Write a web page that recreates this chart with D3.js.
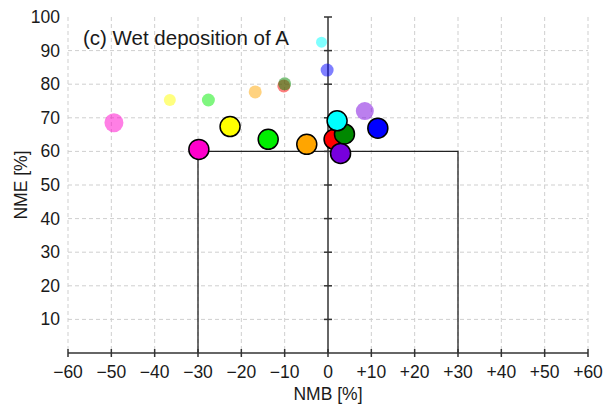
<!DOCTYPE html>
<html>
<head>
<meta charset="utf-8">
<script src="https://cdn.jsdelivr.net/npm/d3@7"></script>
<style>
  body { margin: 0; background: #fff; }
  text { font-family: "Liberation Sans", Arial, sans-serif; fill: #1a1a1a; }
  .grid line { stroke: #cfcfcf; stroke-dasharray: 4 3; stroke-width: 1; }
</style>
</head>
<body>
<svg id="chart"></svg>
<script>
const colors = ['#ff00cc', '#ffff00', '#00ee00', '#ffa500', '#ff0000', '#008800', '#0000ff', '#00ffff', '#7700dd'];

// current results (outlined)
const nmb = [-29.8, -22.6, -13.8, -4.9, 1.4, 3.8, 11.5, 2.1, 2.9];
const nme = [60.6, 67.4, 63.6, 62.1, 63.6, 65.2, 66.9, 69.1, 59.4];

// earlier results (faded)
const nmbOld = [-49.4, -36.5, -27.6, -16.8, -10.2, -10.0, -0.2, -1.5, 8.5];
const nmeOld = [68.5, 75.3, 75.3, 77.7, 79.5, 80.1, 84.2, 92.5, 72.0];
const oldSize = [9.5, 6, 6.5, 6.5, 6.5, 6.5, 6.5, 5.5, 9];

const xTicks = [-60, -50, -40, -30, -20, -10, 0, 10, 20, 30, 40, 50, 60];
const yTicks = [10, 20, 30, 40, 50, 60, 70, 80, 90, 100];
const goal = [[-30, 0], [-30, 60], [30, 60], [30, 0]];

const width = 608, height = 404;
const svg = d3.select('#chart').attr('width', width).attr('height', height);

const x = d3.scaleLinear().domain([-60, 60]).range([68, 588]);
const y = d3.scaleLinear().domain([0, 100]).range([353, 17]);

const fmtX = d => d > 0 ? '+' + d : d < 0 ? '\u2212' + Math.abs(d) : '0';

// grid
const grid = svg.append('g').attr('class', 'grid');
grid.selectAll('.gx')
  .data(xTicks.filter(d => d !== 0))
  .enter().append('line')
  .attr('x1', d => x(d)).attr('x2', d => x(d))
  .attr('y1', y(100)).attr('y2', y(0));
grid.selectAll('.gy')
  .data(yTicks.filter(d => d < 100))
  .enter().append('line')
  .attr('x1', x(-60)).attr('x2', x(60))
  .attr('y1', d => y(d)).attr('y2', d => y(d));

// goal box
svg.append('path')
  .datum(goal)
  .attr('d', d3.line().x(d => x(d[0])).y(d => y(d[1])))
  .attr('fill', 'none')
  .attr('stroke', '#222')
  .attr('stroke-width', 1.3);

// x axis
const xAxis = svg.append('g').attr('transform', `translate(0,${y(0)})`);
xAxis.append('line')
  .attr('x1', x(-60)).attr('x2', x(60))
  .attr('stroke', '#333').attr('stroke-width', 1.5);
xAxis.selectAll('.tick')
  .data(xTicks)
  .enter().append('line')
  .attr('x1', d => x(d)).attr('x2', d => x(d))
  .attr('y1', -4).attr('y2', 4)
  .attr('stroke', '#333').attr('stroke-width', 1.5);
xAxis.selectAll('text')
  .data(xTicks)
  .enter().append('text')
  .attr('x', d => x(d))
  .attr('y', 25)
  .attr('text-anchor', 'middle')
  .attr('font-size', 17.5)
  .text(fmtX);

// y axis line at NMB = 0
const yAxis = svg.append('g').attr('transform', `translate(${x(0)},0)`);
yAxis.append('line')
  .attr('y1', y(0)).attr('y2', y(100))
  .attr('stroke', '#333').attr('stroke-width', 1.5);
yAxis.selectAll('.tick')
  .data(yTicks)
  .enter().append('line')
  .attr('x1', -4).attr('x2', 4)
  .attr('y1', d => y(d)).attr('y2', d => y(d))
  .attr('stroke', '#333').attr('stroke-width', 1.5);

svg.append('g').selectAll('text')
  .data(yTicks)
  .enter().append('text')
  .attr('x', 60)
  .attr('y', d => y(d) + 6)
  .attr('text-anchor', 'end')
  .attr('font-size', 17.5)
  .text(d => d);

// faded points
svg.append('g').selectAll('circle')
  .data(nmbOld)
  .enter().append('circle')
  .attr('cx', d => x(d))
  .attr('cy', (d, i) => y(nmeOld[i]))
  .attr('r', (d, i) => oldSize[i])
  .attr('fill', (d, i) => colors[i])
  .attr('fill-opacity', 0.5);

// current points
svg.append('g').selectAll('circle')
  .data(nmb)
  .enter().append('circle')
  .attr('cx', d => x(d))
  .attr('cy', (d, i) => y(nme[i]))
  .attr('r', 10)
  .attr('fill', (d, i) => colors[i])
  .attr('stroke', '#000')
  .attr('stroke-width', 1.5);

svg.append('text')
  .attr('x', 83)
  .attr('y', 45)
  .attr('font-size', 20.5)
  .text('(c) Wet deposition of A');

svg.append('text')
  .attr('x', x(0))
  .attr('y', 400)
  .attr('text-anchor', 'middle')
  .attr('font-size', 17.5)
  .text('NMB [%]');

svg.append('text')
  .attr('transform', `translate(27,${(y(0) + y(100)) / 2}) rotate(-90)`)
  .attr('text-anchor', 'middle')
  .attr('font-size', 17.5)
  .text('NME [%]');
</script>
</body>
</html>
